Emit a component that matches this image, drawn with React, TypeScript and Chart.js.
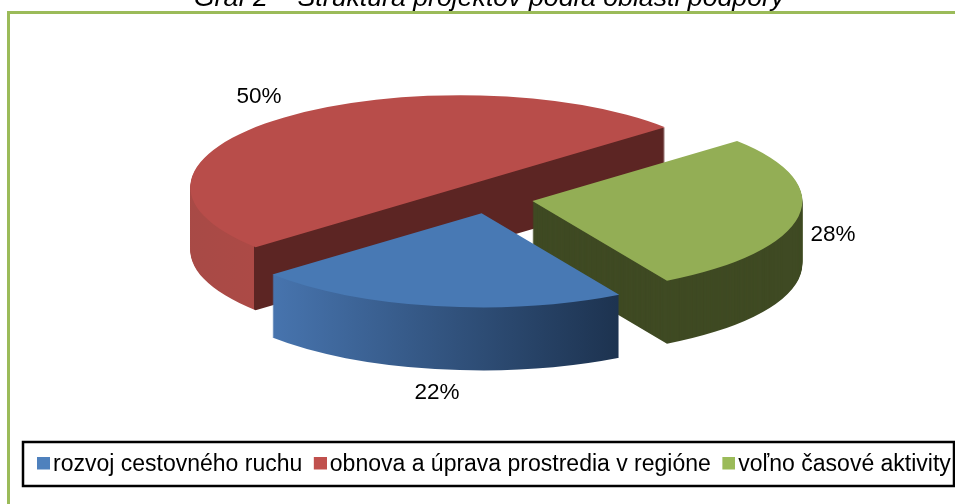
import React, { useEffect, useRef } from "react";
import { Chart, registerables } from "chart.js";

Chart.register(...registerables);

const categories = ["rozvoj cestovného ruchu", "obnova a úprava prostredia v regióne", "voľno časové aktivity"];
const shares = [22, 50, 28];
const sliceColors = ["#4879B4", "#B84D4A", "#93AE55"];
const legendColors = ["#4F81BD", "#C0504D", "#9BBB59"];
const percentLabels = ["22%", "50%", "28%"];
const titleText = "Graf 2 – Štruktúra projektov podľa oblasti podpory";

const CX = 489;
const CY = 198.5;
const RADIUS = 270;
const SLICE_RADIUS = [276, 270, 270];
const SQUASH = 92 / 270;
const DEPTH = 63;
const EXPLODE = 176;
const LABEL_POS = [[437, 393], [259, 97], [833, 235]];

function sideFill(ctx: CanvasRenderingContext2D, i: number, shift: number) {
  const gx = (x: number) => x + shift;
  if (i === 0) {
    const g = ctx.createLinearGradient(gx(273), 0, gx(617), 0);
    g.addColorStop(0, "#4774AE");
    g.addColorStop(1, "#1D3350");
    return g;
  }
  if (i === 1) {
    const g = ctx.createLinearGradient(gx(190), 0, gx(668), 0);
    const s = (254 - 190) / (668 - 190);
    g.addColorStop(0, "#A84A46");
    g.addColorStop(s, "#AC4A46");
    g.addColorStop(s, "#5C2523");
    g.addColorStop(1, "#5C2523");
    return g;
  }
  return "#3F4A23";
}

function swatch(color: string) {
  // transparent left and bottom parts: legend marks are centred, this moves the square next to its text
  const c = document.createElement("canvas");
  c.width = 18;
  c.height = 17;
  const g = c.getContext("2d")!;
  g.fillStyle = color;
  g.fillRect(5, 0, 13, 13);
  return c;
}

const pie3d = {
  id: "pie3d",
  beforeDatasetsDraw(chart: any) {
    const { ctx } = chart;
    const arcs = chart.getDatasetMeta(0).data;
    const place = (dy: number) => {
      ctx.setTransform(1, 0, 0, 1, 0, 0);
      ctx.translate(CX, CY + dy);
      ctx.scale(1, SQUASH);
      ctx.translate(-arcs[0].x, -arcs[0].y);
    };
    [1, 2, 0].forEach((i) => {
      const arc = arcs[i];
      // Chart.js widens an exploded arc by offset * (1 - sin(sweep)) and trims its ends; cancel both
      const sweep = arc.endAngle - arc.startAngle;
      const off = EXPLODE / 4;
      const grow = off * (1 - Math.sin(Math.min(Math.PI, sweep)));
      const saved = [arc.outerRadius, arc.startAngle, arc.endAngle];
      const half = (arc.startAngle + arc.endAngle) / 2;
      const R = SLICE_RADIUS[i];
      const trim = grow / Math.PI / R / 2;
      arc.outerRadius = R - grow;
      arc.startAngle -= trim;
      arc.endAngle += trim;
      const shift = arc.x - CX - Math.cos(half) * off;
      const top = arc.options.backgroundColor;
      arc.options.backgroundColor = sideFill(ctx, i, shift);
      ctx.save();
      for (let dy = DEPTH; dy >= 1; dy--) {
        place(dy);
        arc.draw(ctx);
      }
      ctx.restore();
      arc.options.backgroundColor = top;
      ctx.save();
      place(0);
      arc.draw(ctx);
      ctx.restore();
      [arc.outerRadius, arc.startAngle, arc.endAngle] = saved;
    });
    ctx.setTransform(1, 0, 0, 1, 0, 0);
    return false;
  },
  afterDraw(chart: any) {
    const { ctx } = chart;
    ctx.save();
    ctx.font = "22.5px 'Liberation Sans'";
    ctx.fillStyle = "#000";
    ctx.textAlign = "center";
    ctx.textBaseline = "middle";
    percentLabels.forEach((t, i) => ctx.fillText(t, LABEL_POS[i][0], LABEL_POS[i][1]));
    ctx.font = "italic 26.7px 'Liberation Sans'";
    ctx.textBaseline = "alphabetic";
    ctx.fillText(titleText, 489, 6);
    ctx.strokeStyle = "#9BBB59";
    ctx.lineWidth = 3;
    ctx.beginPath();
    ctx.moveTo(8.5, 520);
    ctx.lineTo(8.5, 12.5);
    ctx.lineTo(970, 12.5);
    ctx.stroke();
    ctx.strokeStyle = "#000";
    ctx.lineWidth = 2.5;
    ctx.strokeRect(23, 442, 931, 44);
    ctx.restore();
  },
};

export default function App() {
  const ref = useRef<HTMLCanvasElement>(null);
  useEffect(() => {
    const chart = new Chart(ref.current!, {
      type: "pie",
      data: {
        labels: categories,
        datasets: [{ data: shares, backgroundColor: sliceColors, borderWidth: 0, offset: EXPLODE }],
      },
      options: {
        responsive: false,
        animation: false,
        rotation: 150.1,
        radius: RADIUS,
        layout: { padding: { left: 25.5, right: -30, bottom: 17.5 } },
        plugins: {
          tooltip: { enabled: false },
          title: { display: false },
          legend: {
            position: "bottom",
            align: "start",
            labels: {
              color: "#000",
              font: { family: "'Liberation Sans'", size: 23 },
              usePointStyle: true,
              boxWidth: 1,
              boxHeight: 13,
              padding: 15,
              generateLabels: () =>
                categories.map((text, index) => ({
                  text,
                  index,
                  fillStyle: legendColors[index],
                  strokeStyle: legendColors[index],
                  lineWidth: 0,
                  pointStyle: swatch(legendColors[index]),
                  hidden: false,
                  fontColor: "#000",
                })),
            },
          },
        },
      } as any,
      plugins: [pie3d],
    });
    return () => chart.destroy();
  }, []);
  return <canvas ref={ref} width={955} height={504} style={{ position: "fixed", left: 0, top: 0, display: "block" }} />;
}
